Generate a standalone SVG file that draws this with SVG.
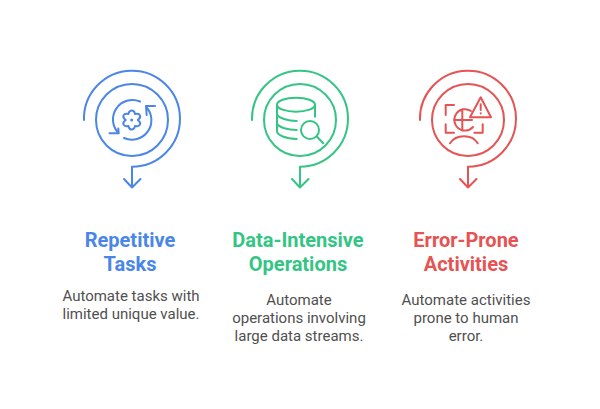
<svg xmlns="http://www.w3.org/2000/svg" width="600" height="409" viewBox="0 0 600 409">
<style>
.s{fill:none;stroke-width:2;stroke-linecap:round;stroke-linejoin:round}
.b{stroke:#4a86e8}.g{stroke:#34c584}.r{stroke:#e55353}
.t{font-family:Roboto,"Liberation Sans",sans-serif;font-size:20px;font-weight:700;text-anchor:middle}
.d{font-family:Roboto,"Liberation Sans",sans-serif;font-size:15px;fill:#4f4f4f;text-anchor:middle}
</style>
<rect width="600" height="409" fill="#fff"/>
<g id="connectors">
<path class="s b" d="M84 120A48 48 0 1 1 132 166.700V187.500M124 179L132 187.500L140.500 179"/>
<path class="s g" d="M252 120A48 48 0 1 1 300 166.700V187.500M292 179L300 187.500L308.500 179"/>
<path class="s r" d="M420 120A48 48 0 1 1 468 166.700V187.500M460 179L468 187.500L476.500 179"/>
</g>
<g id="node-repetitive">
<circle class="s b" cx="132" cy="120" r="36"/>
<path class="s b" d="M140 101.500A19.500 19.500 0 0 0 118.700 133.300M109.500 133.300H118.700L118.300 128.500M124 138A19.500 19.500 0 0 0 146 106.700M155 106H146L146.700 115"/>
<path class="s b" d="M131.700 110.500C134.500 110.500 134.500 112 135 114C137 113.500 139 113 140 115.500C141 118 139 118.800 137.800 120C139 121.200 141 122 140 124.500C139 127 137 126.500 135 126C134.500 128 134.500 129.500 131.700 129.500C129 129.500 129 128 128.500 126C126.500 126.500 124.500 127 123.500 124.500C122.500 122 124.500 121.200 125.700 120C124.500 118.800 122.500 118 123.500 115.500C124.500 113 126.500 113.500 128.500 114C129 112 129 110.500 131.700 110.500Z"/>
<circle cx="131.700" cy="120" r="1.500" fill="#4a86e8"/>
<text class="t" x="130" y="247" fill="#4a86e8">Repetitive</text>
<text class="t" x="130" y="271" fill="#4a86e8">Tasks</text>
<text class="d" x="131" y="301">Automate tasks with</text>
<text class="d" x="131" y="319">limited unique value.</text>
</g>
<g id="node-data">
<circle class="s g" cx="300" cy="120" r="36"/>
<ellipse class="s g" cx="296" cy="104.700" rx="19" ry="7"/>
<path class="s g" d="M277 104.700V131C277 135.500 286 138.500 296.700 139M315 104.700V116.700M277 114C278 118 288 121 296.700 121M277 123.500C279 127.500 288 130 296.700 130"/>
<circle class="s g" cx="310" cy="130" r="9"/>
<path class="s g" d="M317 136.700L323.300 143.300"/>
<text class="t" x="298" y="247" fill="#34c584">Data-Intensive</text>
<text class="t" x="298" y="271" fill="#34c584">Operations</text>
<text class="d" x="299" y="305">Automate</text>
<text class="d" x="299" y="323">operations involving</text>
<text class="d" x="299" y="341">large data streams.</text>
</g>
<g id="node-error">
<circle class="s r" cx="468" cy="120" r="36"/>
<path class="s r" d="M454 105H445.700V115M445.700 124.300V132.700H454M474.300 132.700H482.700V124.300"/>
<path class="s r" d="M480.700 97.300L470 117.300H491Z"/>
<path class="s r" d="M480.700 104.300V110M480.700 113.300V113.500"/>
<path class="s r" d="M471 111A10.700 10.700 0 1 0 473 127M462.300 109.300V130.700M454 120H472"/>
<path class="s r" d="M450 143.300C456 134 472 134 477.700 143.300"/>
<text class="t" x="466" y="247" fill="#e55353">Error-Prone</text>
<text class="t" x="466" y="271" fill="#e55353">Activities</text>
<text class="d" x="466" y="305">Automate activities</text>
<text class="d" x="466" y="323">prone to human</text>
<text class="d" x="466" y="341">error.</text>
</g>
</svg>
